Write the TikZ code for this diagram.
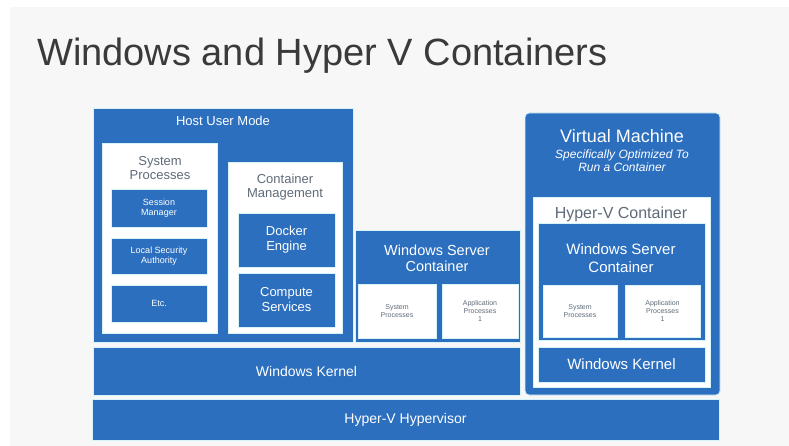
\documentclass[tikz,border=0pt]{standalone}
\usepackage{fontspec}
\setmainfont{Liberation Sans}
\definecolor{bl}{HTML}{2C6FBF}
\definecolor{bgc}{HTML}{F7F7F7}
\definecolor{ttl}{HTML}{3A3A3A}
\definecolor{gtxt}{HTML}{5F6B78}
\definecolor{edgec}{HTML}{D6F3F9}
\tikzset{
  box/.style={anchor=north west, inner sep=0pt, outer sep=0pt},
  bluebox/.style={box, fill=bl, draw=edgec, line width=0.8pt},
  whitebox/.style={box, fill=white, draw=edgec, line width=0.6pt},
  wt/.style={text=white, align=center, inner sep=0pt},
  gt/.style={text=gtxt, align=center, inner sep=0pt},
}
\newcommand{\fs}[2]{\fontsize{#1}{#2}\selectfont}
\begin{document}
\begin{tikzpicture}[x=1pt,y=-1pt]
\useasboundingbox (0,0) rectangle (789,446);
\fill[bgc] (10,7) rectangle (789,446);
\node[anchor=base west, inner sep=0pt, text=ttl, font=\fs{38}{40}] (title) at (37,66) {Windows and Hyper V Containers};

% Host user mode
\node[bluebox, minimum width=260pt, minimum height=234pt] (host) at (93,108) {};
\node[wt, font=\fs{13}{14}] (hostlbl) at (223,121) {Host User Mode};
\node[whitebox, minimum width=115pt, minimum height=190pt] (sysp) at (102,143) {};
\node[gt, font=\fs{13}{14}] (sysplbl) at (160,168) {System\\Processes};
\node[bluebox, minimum width=96pt, minimum height=38pt] (sess) at (111,189) {};
\node[wt, font=\fs{9}{10}] at (sess.center) {Session\\Manager};
\node[bluebox, minimum width=96pt, minimum height=36pt] (lsa) at (111,238) {};
\node[wt, font=\fs{9}{10}] at (lsa.center) {Local Security\\Authority};
\node[bluebox, minimum width=96pt, minimum height=37pt] (etc) at (111,285) {};
\node[wt, font=\fs{9}{10}] at (etc.center) {Etc.};
\node[whitebox, minimum width=114pt, minimum height=171pt] (cm) at (228,162) {};
\node[gt, font=\fs{13}{14}] (cmlbl) at (285,187) {Container\\Management};
\node[bluebox, minimum width=97pt, minimum height=54pt] (docker) at (238,213) {};
\node[wt, font=\fs{13}{15}] at (docker.center) {Docker\\Engine};
\node[bluebox, minimum width=97pt, minimum height=54pt] (compute) at (238,273) {};
\node[wt, font=\fs{13}{15}] at (compute.center) {Compute\\Services};

% Middle Windows Server Container
\node[bluebox, minimum width=165pt, minimum height=112pt] (wsc) at (355,230) {};
\node[wt, font=\fs{14.5}{16}] (wsclbl) at (437,258) {Windows Server\\Container};
\node[whitebox, minimum width=78pt, minimum height=54pt] (sp1) at (358,284) {};
\node[gt, font=\fs{7}{8}] at (sp1.center) {System\\Processes};
\node[whitebox, minimum width=76pt, minimum height=54pt] (ap1) at (442,284) {};
\node[gt, font=\fs{7}{8}] at (ap1.center) {Application\\Processes\\1};

% Kernel and hypervisor
\node[bluebox, minimum width=427pt, minimum height=48pt] (kern) at (93,347) {};
\node[wt, font=\fs{14}{16}] at (kern.center) {Windows Kernel};
\node[bluebox, minimum width=627pt, minimum height=41pt] (hyp) at (92,399) {};
\node[wt, font=\fs{14}{16}] at (hyp.center) {Hyper-V Hypervisor};

% Virtual machine
\node[bluebox, rounded corners=4pt, minimum width=195pt, minimum height=282pt] (vm) at (525,113) {};
\node[wt, font=\fs{18}{20}] (vmlbl) at (622,136) {Virtual Machine};
\node[wt, font=\fs{12}{13}\itshape] (vmsub) at (622,161) {Specifically Optimized To\\Run a Container};
\node[whitebox, minimum width=177pt, minimum height=190pt] (hvc) at (533,197) {};
\node[gt, font=\fs{16}{18}] (hvclbl) at (621,214) {Hyper-V Container};
\node[bluebox, minimum width=167pt, minimum height=117pt] (wsc2) at (538,223) {};
\node[wt, font=\fs{15}{18}] (wsc2lbl) at (621,258) {Windows Server\\Container};
\node[whitebox, minimum width=74pt, minimum height=52pt] (sp2) at (543,285) {};
\node[gt, font=\fs{7}{8}] at (sp2.center) {System\\Processes};
\node[whitebox, minimum width=75pt, minimum height=52pt] (ap2) at (625,285) {};
\node[gt, font=\fs{7}{8}] at (ap2.center) {Application\\Processes\\1};
\node[bluebox, minimum width=167pt, minimum height=35pt] (kern2) at (538,347) {};
\node[wt, font=\fs{15}{17}] at (kern2.center) {Windows Kernel};
\end{tikzpicture}
\end{document}
